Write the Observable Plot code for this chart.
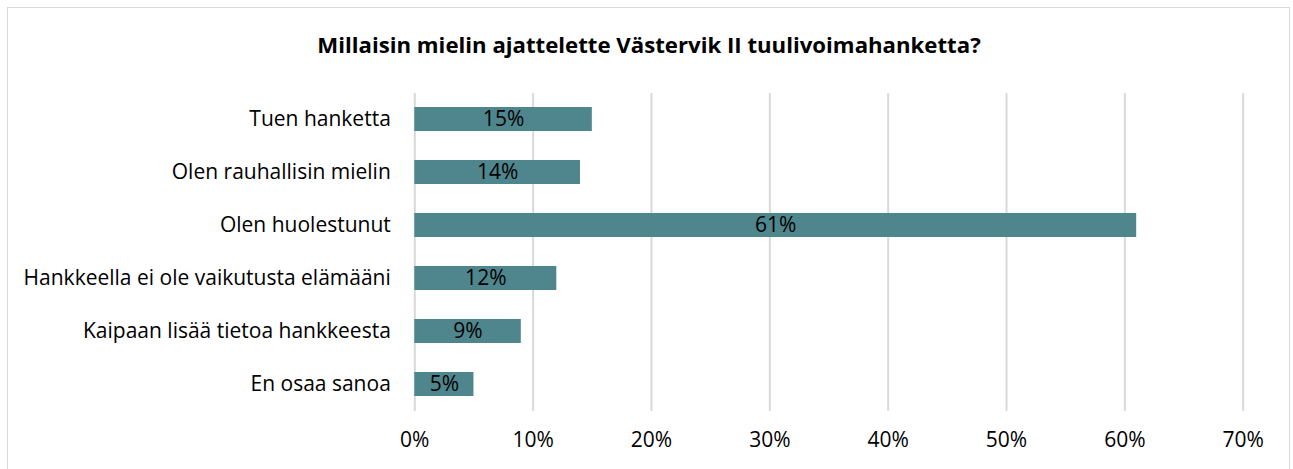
<!DOCTYPE html>
<html><head><meta charset="utf-8">
<script src="https://cdn.jsdelivr.net/npm/d3@7"></script>
<script src="https://cdn.jsdelivr.net/npm/@observablehq/plot@0.6"></script>
<style>
html,body{margin:0;padding:0;background:#fff;}
#wrap{position:relative;width:1293px;height:469px;overflow:hidden;font-family:"Open Sans",sans-serif;}
#border{position:absolute;left:7px;top:7px;width:1283px;height:480px;border:1.5px solid #d9d9d9;box-sizing:border-box;}
#title{position:absolute;left:0;width:1298px;top:29px;text-align:center;font-weight:bold;font-size:22.2px;color:#000;}
#chart{position:absolute;left:0;top:0;}
</style></head>
<body><div id="wrap"><div id="border"></div><div id="title">Millaisin mielin ajattelette Västervik II tuulivoimahanketta?</div><div id="chart"></div></div>
<script>
const categories = ["Tuen hanketta","Olen rauhallisin mielin","Olen huolestunut","Hankkeella ei ole vaikutusta elämääni","Kaipaan lisää tietoa hankkeesta","En osaa sanoa"];
const values = [15,14,61,12,9,5];
const xTicks = [0,10,20,30,40,50,60,70];
const data = categories.map((c,i)=>({c, v: values[i]}));
const F = '"Open Sans",sans-serif';
const FS = 21;
const plot = Plot.plot({
  width: 1293, height: 469,
  marginTop: 93, marginBottom: 58, marginLeft: 414.3, marginRight: 50.3,
  style: {fontFamily: F, fontSize: FS + "px", color: "#000", background: "transparent"},
  x: {domain: [0,70], ticks: xTicks, label: null},
  y: {domain: categories, paddingInner: 0.547, paddingOuter: 0.2735, label: null},
  marks: [
    Plot.ruleX(xTicks, {stroke: "#d9d9d9", strokeWidth: 2}),
    Plot.barX(data, {x: "v", y: "c", fill: "#4f868e"}),
    Plot.text(data, {x: d => d.v/2, y: "c", text: d => d.v + "%", fill: "#000", fontSize: FS}),
    Plot.axisX({ticks: xTicks, tickFormat: d => d + "%", tickSize: 0, tickPadding: 21, fontSize: FS}),
    Plot.axisY({tickSize: 0, tickPadding: 24, fontSize: FS})
  ]
});
document.getElementById("chart").appendChild(plot);
</script></body></html>
